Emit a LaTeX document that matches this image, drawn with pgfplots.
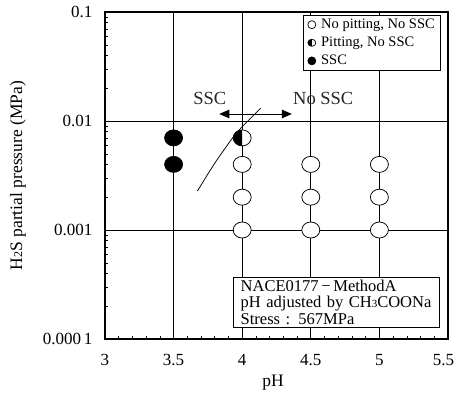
\documentclass[border=0pt]{standalone}
\usepackage{fontspec}
\setmainfont{Liberation Serif}
\usepackage{pgfplots}
\pgfplotsset{compat=1.18}
\usetikzlibrary{arrows.meta}
\pgfdeclareplotmark{ell}{%
  \pgfpathellipse{\pgfpointorigin}{\pgfpoint{\pgfplotmarksize}{0pt}}{\pgfpoint{0pt}{0.89\pgfplotmarksize}}%
  \pgfusepathqfillstroke}
\pgfdeclareplotmark{halfell}{%
  \pgfpathellipse{\pgfpointorigin}{\pgfpoint{\pgfplotmarksize}{0pt}}{\pgfpoint{0pt}{0.89\pgfplotmarksize}}%
  \pgfsetfillcolor{white}\pgfusepath{fill}%
  \pgfpathmoveto{\pgfpoint{0pt}{0.89\pgfplotmarksize}}%
  \pgfpatharc{90}{270}{\pgfplotmarksize and 0.89\pgfplotmarksize}%
  \pgfpathclose
  \pgfsetfillcolor{black}\pgfusepath{fill}%
  \pgfpathellipse{\pgfpointorigin}{\pgfpoint{\pgfplotmarksize}{0pt}}{\pgfpoint{0pt}{0.89\pgfplotmarksize}}%
  \pgfusepath{stroke}}
\begin{document}
\begin{tikzpicture}[font=\fontsize{17.5}{20}\selectfont]
\useasboundingbox (-105pt,-57pt) rectangle (351pt,339pt);
\begin{axis}[
  at={(0pt,0pt)}, anchor=south west,
  scale only axis,
  width=343pt, height=327pt,
  xmin=3, xmax=5.5,
  ymode=log, ymin=1e-4, ymax=0.1,
  xtick={3,3.5,4,4.5,5,5.5},
  xticklabels={3,3.5,4,4.5,5,\hspace*{-9pt}5.5},
  minor x tick num=4,
  ytick={1e-4,1e-3,1e-2,1e-1},
  yticklabels={0.000\,1,0.001,0.01,0.1},
  tick align=inside,
  xtick pos=bottom, ytick pos=left,
  major tick length=5pt, minor tick length=3.5pt,
  axis line style={line width=1.3pt},
  tick style={black, line width=0.6pt},
  major grid style={black, line width=0.75pt},
  xmajorgrids, ymajorgrids,
  /pgf/number format/assume math mode=true,
  tick label style={font=\fontsize{17}{20}\selectfont},
  yticklabel style={xshift=-9pt},
  xticklabel style={yshift=-12pt},
  xlabel={pH},
  ylabel={H{\fontsize{12}{12}\selectfont 2}S partial pressure (MPa)},
  xlabel style={at={(axis description cs:0.49,0)}, anchor=base, yshift=-47pt},
  ylabel style={at={(axis description cs:0,0.5)}, anchor=center, yshift=87pt},
  legend cell align=left,
  legend style={at={(0.98,0.99)}, anchor=north east, draw=black, fill=white,
    font=\fontsize{14.5}{16}\selectfont, inner xsep=4pt, inner ysep=1.5pt, row sep=3pt,
    line width=0.7pt, /tikz/every odd column/.append style={column sep=3pt}},
  clip=false,
]
% curve
\addplot[black, line width=0.75pt, smooth, forget plot] coordinates {
  (3.674,0.00228) (3.80,0.0041) (3.93,0.0070) (3.99,0.0086) (4.135,0.0131)};
% arrow
\addplot[black, line width=0.9pt, {Triangle[length=10pt,width=8.5pt]}-{Triangle[length=10pt,width=8.5pt]}, forget plot]
  coordinates {(3.833,0.0116) (4.362,0.0116)};
% no pitting, no SSC
\addplot[only marks, mark=ell, mark size=9pt, mark options={draw=black, fill=white, line width=0.75pt}, forget plot]
  coordinates {(4,0.004) (4,0.002) (4,0.001)
               (4.5,0.004) (4.5,0.002) (4.5,0.001)
               (5,0.004) (5,0.002) (5,0.001)};
% pitting, no SSC
\addplot[only marks, mark=halfell, mark size=9pt, mark options={draw=black, line width=0.75pt}, forget plot]
  coordinates {(4,0.007)};
% SSC
\addplot[only marks, mark=ell, mark size=9pt, mark options={draw=black, fill=black, line width=0.75pt}, forget plot]
  coordinates {(3.5,0.007) (3.5,0.004)};
% legend
\addlegendimage{only marks, mark=o, mark size=4pt, mark options={line width=0.7pt}}
\addlegendentry{No pitting, No SSC\hspace{9pt}}
\addlegendimage{only marks, mark=halfell, mark size=4pt, mark options={line width=0.7pt}}
\addlegendentry{Pitting, No SSC}
\addlegendimage{only marks, mark=*, mark size=4pt, mark options={black}}
\addlegendentry{SSC}
\node[anchor=base, text=black!85, font=\fontsize{18.5}{20}\selectfont] at (axis cs:3.764,0.0143) {SSC};
\node[anchor=base, text=black!85, font=\fontsize{18.5}{20}\selectfont] at (axis cs:4.591,0.0143) {No SSC};
\node[draw=black, line width=0.7pt, fill=white, anchor=south east, align=left,
  inner xsep=7pt, inner ysep=3pt, text width=192pt,
  font=\fontsize{16.5}{16.5}\selectfont] at (rel axis cs:0.9768,0.0337)
  {NACE0177\,−\,MethodA\\pH adjusted by CH{\fontsize{11}{11}\selectfont 3}COONa\\Stress : 567MPa};
\end{axis}
\end{tikzpicture}
\end{document}
